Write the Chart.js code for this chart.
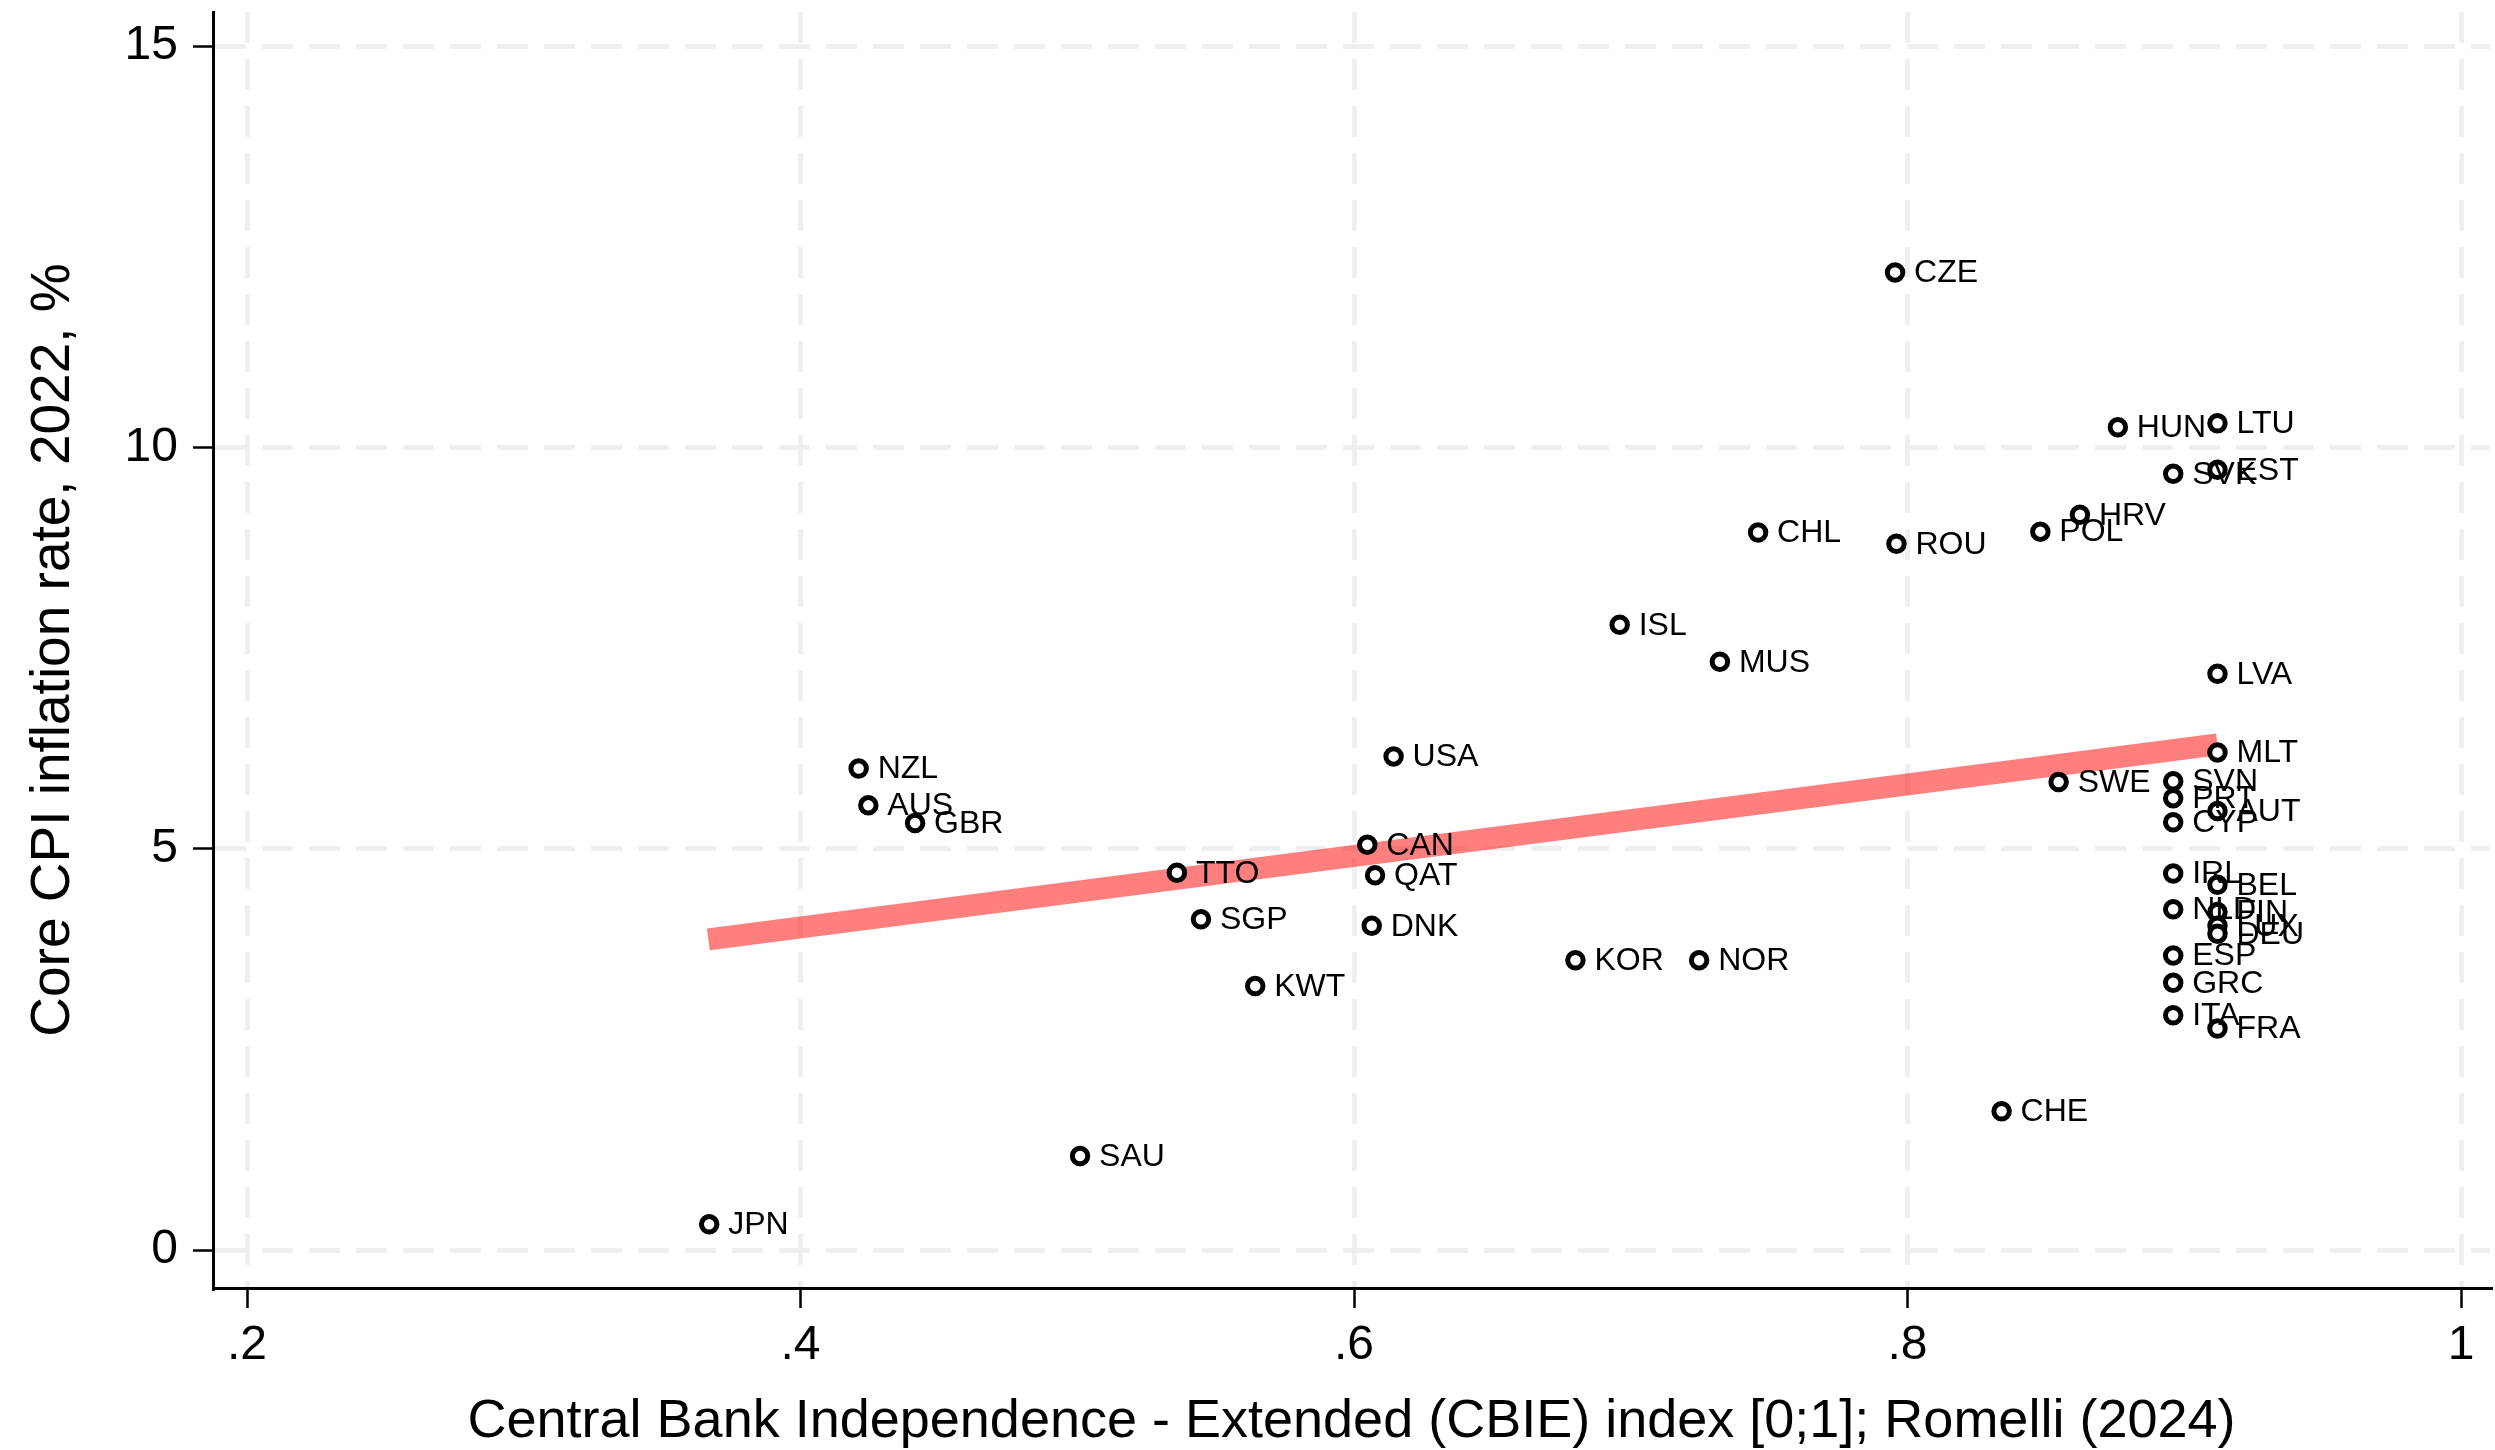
<!DOCTYPE html>
<html>
<head>
<meta charset="utf-8">
<script src="https://cdn.jsdelivr.net/npm/chart.js@4"></script>
<style>
  body { margin: 0; background: #fff; }
  #wrap { width: 2495px; height: 1450px; }
</style>
</head>
<body>
<div id="wrap"><canvas id="chart" width="2495" height="1450"></canvas></div>
<script>
// country codes and values
const countries = ["JPN", "SAU", "NZL", "AUS", "GBR", "TTO", "SGP", "KWT", "CAN", "QAT", "DNK", "USA",
  "KOR", "NOR", "ISL", "MUS", "CHL", "CZE", "ROU", "CHE", "POL", "HRV", "HUN", "SWE",
  "SVK", "SVN", "PRT", "CYP", "IRL", "NLD", "ESP", "GRC", "ITA",
  "LTU", "EST", "LVA", "MLT", "AUT", "BEL", "FIN", "LUX", "DEU", "FRA"];
const cbie = [0.367, 0.501, 0.421, 0.4245, 0.4414, 0.536, 0.5447, 0.5643, 0.6048, 0.6076, 0.6064, 0.6143,
  0.680, 0.7247, 0.696, 0.7322, 0.746, 0.7955, 0.796, 0.834, 0.848, 0.8623, 0.876, 0.8546,
  0.896, 0.896, 0.896, 0.896, 0.896, 0.896, 0.896, 0.896, 0.896,
  0.912, 0.912, 0.912, 0.912, 0.912, 0.912, 0.912, 0.912, 0.912, 0.912];
const coreInflation = [0.32, 1.17, 6.0, 5.54, 5.32, 4.70, 4.12, 3.29, 5.05, 4.67, 4.04, 6.15,
  3.61, 3.61, 7.79, 7.33, 8.94, 12.18, 8.80, 1.73, 8.95, 9.16, 10.25, 5.83,
  9.67, 5.84, 5.63, 5.33, 4.69, 4.245, 3.67, 3.33, 2.925,
  10.30, 9.72, 7.18, 6.20, 5.47, 4.55, 4.21, 4.04, 3.94, 2.76];

// linear fit line end points
const fitX = [0.3667, 0.912];
const fitY = [3.87, 6.3];

const xTicks = [0.2, 0.4, 0.6, 0.8, 1];
const xTickLabels = [".2", ".4", ".6", ".8", "1"];
const yTicks = [0, 5, 10, 15];
const yTickLabels = ["0", "5", "10", "15"];

const FONT = "'Liberation Sans', Arial, Helvetica, sans-serif";

const pointLabels = {
  id: "pointLabels",
  afterDatasetsDraw(chart) {
    const ctx = chart.ctx;
    const meta = chart.getDatasetMeta(1);
    ctx.save();
    ctx.font = "32px " + FONT;
    ctx.fillStyle = "#000";
    ctx.textAlign = "left";
    ctx.textBaseline = "middle";
    meta.data.forEach((pt, i) => {
      ctx.fillText(countries[i], pt.x + 19, pt.y + 1);
    });
    ctx.restore();
  }
};

const gridOpts = {
  color: "#efefef",
  lineWidth: 5,
  tickColor: "#000",
  tickWidth: 2.5,
  tickLength: 20
};

new Chart(document.getElementById("chart"), {
  data: {
    datasets: [
      {
        type: "line",
        data: fitX.map((x, i) => ({ x: x, y: fitY[i] })),
        borderColor: "rgba(255, 0, 0, 0.5)",
        borderWidth: 22,
        borderCapStyle: "butt",
        pointRadius: 0,
        fill: false,
        order: 2
      },
      {
        type: "scatter",
        data: cbie.map((x, i) => ({ x: x, y: coreInflation[i] })),
        pointStyle: "circle",
        pointRadius: 7.75,
        pointBorderWidth: 5,
        pointBorderColor: "#000",
        pointBackgroundColor: "#fff",
        order: 1
      }
    ]
  },
  options: {
    responsive: false,
    devicePixelRatio: 1,
    animation: false,
    events: [],
    layout: { autoPadding: false, padding: { top: 12, right: 5, left: 0, bottom: 0 } },
    plugins: { legend: { display: false }, tooltip: { enabled: false } },
    scales: {
      x: {
        type: "linear",
        min: 0.18771,
        max: 1.01047,
        afterBuildTicks: (s) => { s.ticks = xTicks.map((v) => ({ value: v })); },
        afterFit: (s) => { s.height = 162; s.paddingLeft = 0; s.paddingRight = 0; },
        ticks: {
          autoSkip: false,
          maxRotation: 0,
          padding: 9,
          color: "#000",
          font: { family: FONT, size: 48 },
          callback: (v) => xTickLabels[xTicks.indexOf(v)]
        },
        grid: gridOpts,
        border: { color: "#000", width: 3, dash: [31, 16] },
        title: {
          display: true,
          text: "Central Bank Independence - Extended (CBIE) index [0;1]; Romelli (2024)",
          color: "#000",
          font: { family: FONT, size: 54 },
          padding: { top: 0, bottom: -5 }
        }
      },
      y: {
        type: "linear",
        min: -0.473,
        max: 15.424,
        afterBuildTicks: (s) => { s.ticks = yTicks.map((v) => ({ value: v })); },
        afterFit: (s) => { s.width = 213; s.paddingTop = 0; s.paddingBottom = 0; },
        ticks: {
          autoSkip: false,
          padding: 15,
          color: "#000",
          font: { family: FONT, size: 48 },
          callback: (v) => yTickLabels[yTicks.indexOf(v)]
        },
        grid: gridOpts,
        border: { color: "#000", width: 3, dash: [31, 16] },
        title: {
          display: true,
          text: "Core CPI inflation rate, 2022, %",
          color: "#000",
          font: { family: FONT, size: 55 },
          padding: { top: 21, bottom: 0 }
        }
      }
    }
  },
  plugins: [pointLabels]
});
</script>
</body>
</html>
